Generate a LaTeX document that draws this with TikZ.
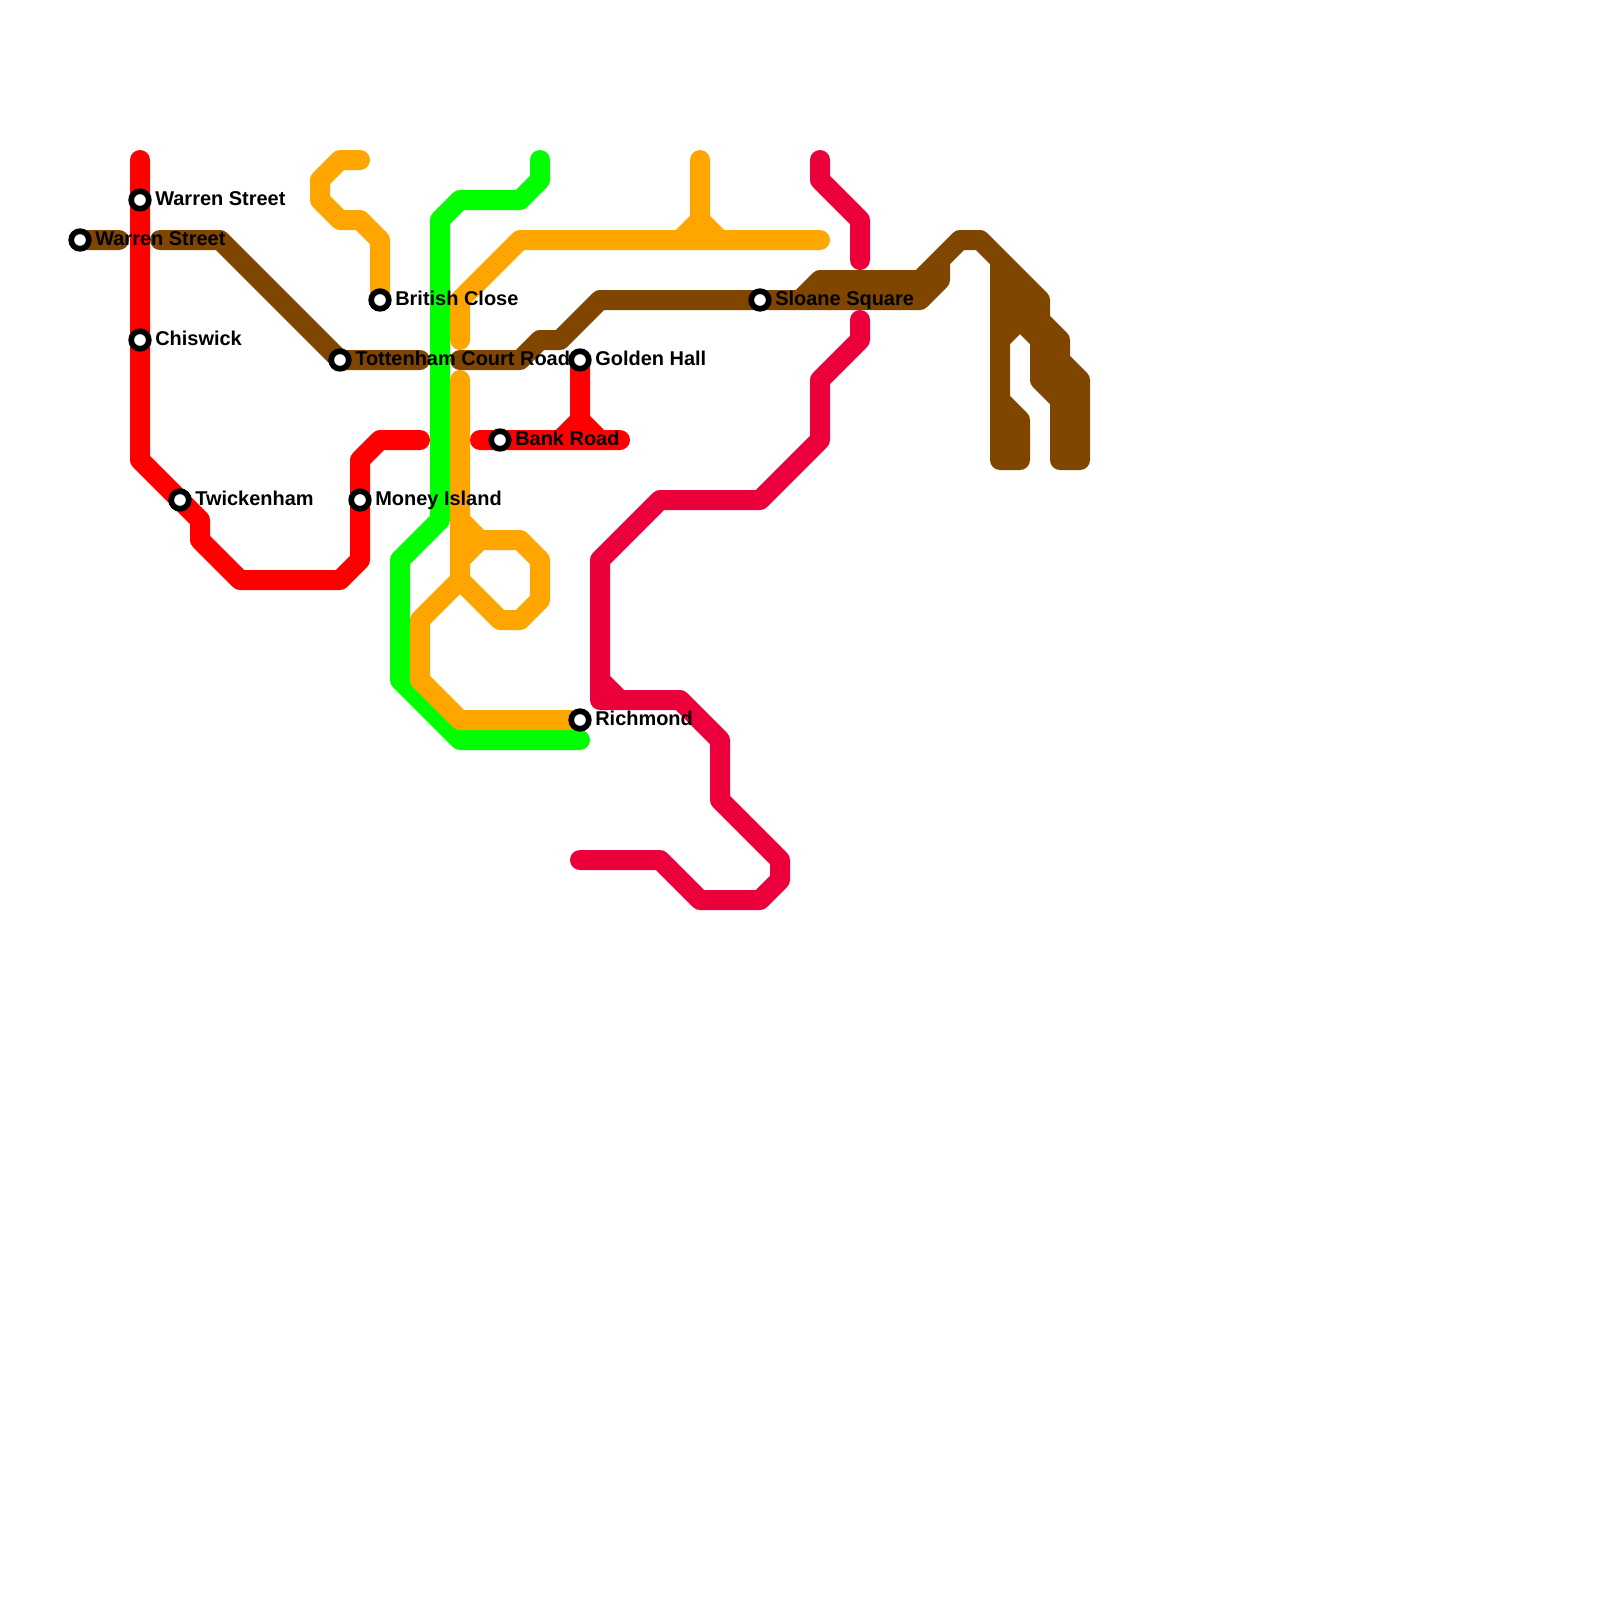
\documentclass[tikz,border=0pt]{standalone}
\usepackage{fontspec}
\usepackage{tikz}
\usepackage{xcolor}
\setmainfont{Liberation Sans}
\definecolor{tubered}{RGB}{255,0,0}
\definecolor{tubegreen}{RGB}{0,255,0}
\definecolor{tubeorange}{RGB}{255,165,0}
\definecolor{tubebrown}{RGB}{128,70,0}
\definecolor{tubecrimson}{RGB}{235,0,60}

\begin{document}
\begin{tikzpicture}[x=0.5cm,y=-0.5cm]
\tikzstyle{route}=[line width=0.5cm,line cap=round,line join=round];
\tikzstyle{station}=[draw=black,fill=white,circle,line width=0.143cm,minimum size=0.44cm,inner sep=0pt];
\tikzstyle{stationname}=[anchor=base west,inner sep=0pt,font=\fontsize{14.2pt}{16pt}\selectfont\bfseries];
\useasboundingbox (0,0) rectangle (80,80);
\coordinate(c1) at (7,10);
\coordinate(c2) at (4,12);
\coordinate(c3) at (7,17);
\coordinate(c4) at (9,25);
\coordinate(c5) at (18,25);
\coordinate(c6) at (19,15);
\coordinate(c7) at (17,18);
\coordinate(c8) at (29,18);
\coordinate(c9) at (25,22);
\coordinate(c10) at (29,36);
\coordinate(c11) at (38,15);
% brown
\draw[route,tubebrown](c2)--(5.95,12)(8,12)--(11,12)--(c7)--(21,18)(23,18)--(26,18)--(27,17)--(28,17)--(30,15)--(c11)--(46,15)--(47,14)--(47,13)--(48,12)--(49,12)--(52,15)--(52,19)--(53,20)--(53,23)(40,15)--(41,14)--(46,14)--(48,12)(46,15)--(46,14)(50,13)--(50,23)--(51,23)--(51,21)--(50,20)(50,17)--(51,16)--(52,17)(51,14)--(51,16)(52,16)--(53,17)--(53,23)(53,18)--(54,19)--(54,23)--(53,23);
% green
\draw[route,tubegreen](27,8)--(27,9)--(26,10)--(23,10)--(22,11)--(22,26)--(20,28)--(20,34)--(23,37)--(29,37);
% orange
\draw[route,tubeorange](18,8)--(17,8)--(16,9)--(16,10)--(17,11)--(18,11)--(19,12)--(c6);
\draw[route,tubeorange](23,17)--(23,15)--(26,12)--(41,12)(35,8)--(35,11)--(34,12)(35,11)--(36,12);
\draw[route,tubeorange](23,19)--(23,29)--(25,31)--(26,31)--(27,30)--(27,28)--(26,27)--(24,27)--(23,26)(24,27)--(23,28)(23,29)--(21,31)--(21,34)--(23,36)--(c10);
% red
\draw[route,tubered](7,8)--(c1)--(c3)--(7,23)--(c4)--(10,26)--(10,27)--(12,29)--(17,29)--(18,28)--(c5)--(18,23)--(19,22)--(21,22);
\draw[route,tubered](24,22)--(c9)--(31,22)(c8)--(29,21)--(28,22)(29,21)--(30,22);
% crimson
\draw[route,tubecrimson](41,8)--(41,9)--(43,11)--(43,13);
\draw[route,tubecrimson](43,16)--(43,17)--(41,19)--(41,22)--(38,25)--(33,25)--(30,28)--(30,35)--(34,35)--(36,37)--(36,40)--(39,43)--(39,44)--(38,45)--(35,45)--(33,43)--(29,43)(30,34)--(31,35);
\node[stationname](l1) at (7.75,10.27) {Warren Street};
\node[stationname](l2) at (4.75,12.27) {Warren Street};
\node[stationname](l3) at (7.75,17.27) {Chiswick};
\node[stationname](l4) at (9.75,25.27) {Twickenham};
\node[stationname](l5) at (18.75,25.27) {Money Island};
\node[stationname](l6) at (19.75,15.27) {British Close};
\node[stationname](l7) at (17.75,18.27) {Tottenham Court Road};
\node[stationname](l8) at (29.75,18.27) {Golden Hall};
\node[stationname](l9) at (25.75,22.27) {Bank Road};
\node[stationname](l10) at (29.75,36.27) {Richmond};
\node[stationname](l11) at (38.75,15.27) {Sloane Square};
\node[station](s1) at (c1) {};
\node[station](s2) at (c2) {};
\node[station](s3) at (c3) {};
\node[station](s4) at (c4) {};
\node[station](s5) at (c5) {};
\node[station](s6) at (c6) {};
\node[station](s7) at (c7) {};
\node[station](s8) at (c8) {};
\node[station](s9) at (c9) {};
\node[station](s10) at (c10) {};
\node[station](s11) at (c11) {};
\end{tikzpicture}
\end{document}
